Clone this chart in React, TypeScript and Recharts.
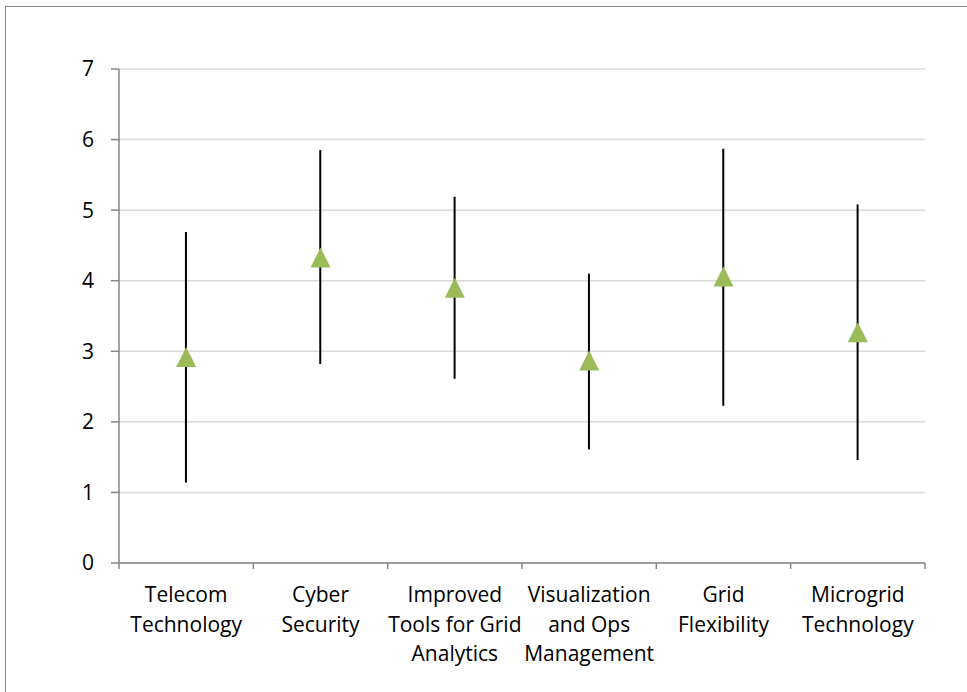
import React from "react";
import {
  Bar,
  CartesianGrid,
  ComposedChart,
  Line,
  XAxis,
  YAxis,
} from "recharts";

const CATEGORY_LINES: string[][] = [
  ["Telecom", "Technology"],
  ["Cyber", "Security"],
  ["Improved", "Tools for Grid", "Analytics"],
  ["Visualization", "and Ops", "Management"],
  ["Grid", "Flexibility"],
  ["Microgrid", "Technology"],
];

const MEAN = [2.92, 4.33, 3.9, 2.87, 4.06, 3.27];
const LOW = [1.14, 2.82, 2.61, 1.61, 2.23, 1.46];
const HIGH = [4.69, 5.85, 5.19, 4.1, 5.87, 5.08];

const Y_TICKS = [0, 1, 2, 3, 4, 5, 6, 7];

const data = CATEGORY_LINES.map((lines, i) => ({
  name: lines.join(" "),
  lines,
  mean: MEAN[i],
  range: [LOW[i], HIGH[i]],
}));

const WIDTH = 967;
const HEIGHT = 692;
const MARGIN = { top: 69, right: 42, bottom: 29, left: 79 };
const Y_AXIS_W = 40;
const HALF_BAND =
  (WIDTH - MARGIN.left - MARGIN.right - Y_AXIS_W) / CATEGORY_LINES.length / 2;

const AXIS_COLOR = "#868686";
const GRID_COLOR = "#d9d9d9";
const MARKER_COLOR = "#9bbb59";
const FONT = "'Open Sans', sans-serif";

// vertical low-high line drawn in the middle of the ranged bar's box
const RangeLine = (props: any) => {
  const { x, y, width, height } = props;
  if (x == null || y == null) return null;
  const cx = x + width / 2;
  return (
    <line
      x1={cx}
      x2={cx}
      y1={y}
      y2={y + height}
      stroke="#000"
      strokeWidth={2}
    />
  );
};

const Triangle = (props: any) => {
  const { cx, cy, index } = props;
  if (cx == null || cy == null) return null;
  const s = 10;
  return (
    <polygon
      key={`tri-${index}`}
      points={`${cx},${cy - s} ${cx - s},${cy + s} ${cx + s},${cy + s}`}
      fill={MARKER_COLOR}
    />
  );
};

// category label plus the boundary tick marks between categories
const CategoryTick = (props: any) => {
  const { x, y, payload, index } = props;
  const lines: string[] = data[index]?.lines ?? [String(payload.value)];
  const half = HALF_BAND;
  const last = index === data.length - 1;
  return (
    <g>
      <line x1={x - half} x2={x - half} y1={y} y2={y + 6} stroke={AXIS_COLOR} strokeWidth={1.5} />
      {last && (
        <line x1={x + half} x2={x + half} y1={y} y2={y + 6} stroke={AXIS_COLOR} strokeWidth={1.5} />
      )}
      <text
        x={x}
        y={y + 39}
        textAnchor="middle"
        fontFamily={FONT}
        fontSize={21}
        fill="#000"
      >
        {lines.map((l, i) => (
          <tspan key={i} x={x} dy={i === 0 ? 0 : 29.5}>
            {l}
          </tspan>
        ))}
      </text>
    </g>
  );
};

export default function App() {
  return (
    <div
      style={{
        position: "fixed",
        left: 0,
        top: 0,
        width: WIDTH,
        height: HEIGHT,
        overflow: "hidden",
        background: "#fff",
      }}
    >
      <div
        style={{
          position: "absolute",
          left: 5,
          top: 6,
          width: WIDTH + 20,
          height: HEIGHT + 20,
          border: "1.5px solid #888",
        }}
      />
      <div style={{ position: "absolute", left: 0, top: 0 }}>
        <ComposedChart
          width={WIDTH}
          height={HEIGHT}
          data={data}
          margin={MARGIN}
          accessibilityLayer={false}
        >
          <CartesianGrid
            vertical={false}
            stroke={GRID_COLOR}
            strokeWidth={1.5}
          />
          <XAxis
            dataKey="name"
            axisLine={{ stroke: AXIS_COLOR, strokeWidth: 1.5 }}
            tickLine={false}
            tickSize={0}
            tickMargin={0}
            height={100}
            interval={0}
            tick={<CategoryTick />}
          />
          <YAxis
            domain={[0, 7]}
            ticks={Y_TICKS}
            width={Y_AXIS_W}
            axisLine={{ stroke: AXIS_COLOR, strokeWidth: 1.5 }}
            tickLine={{ stroke: AXIS_COLOR, strokeWidth: 1.5 }}
            tickSize={8}
            tickMargin={17}
            tick={{ fontFamily: FONT, fontSize: 21, fill: "#000" }}
          />
          <Bar
            dataKey="range"
            shape={<RangeLine />}
            isAnimationActive={false}
          />
          <Line
            dataKey="mean"
            stroke="none"
            dot={<Triangle />}
            activeDot={false}
            isAnimationActive={false}
          />
        </ComposedChart>
      </div>
    </div>
  );
}
